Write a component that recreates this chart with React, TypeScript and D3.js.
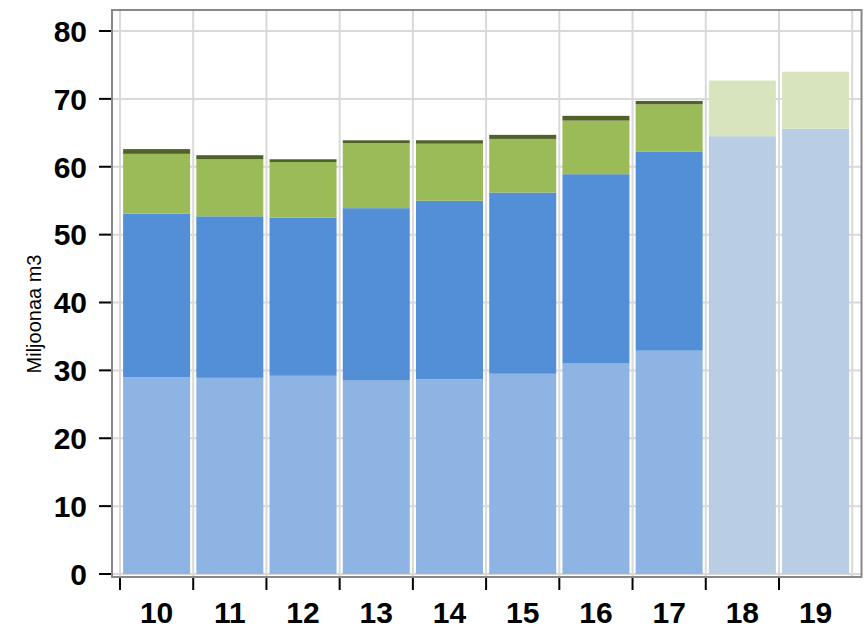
import React from "react";
import * as d3 from "d3";

const years = ["10", "11", "12", "13", "14", "15", "16", "17", "18", "19"];
const baseLight = [29.0, 28.9, 29.2, 28.5, 28.7, 29.5, 31.0, 32.9, 0, 0];
const midBlue = [24.1, 23.8, 23.3, 25.4, 26.3, 26.7, 27.9, 29.3, 0, 0];
const green = [8.8, 8.4, 8.2, 9.6, 8.4, 7.9, 7.9, 7.0, 0, 0];
const darkGreen = [0.7, 0.6, 0.4, 0.4, 0.5, 0.6, 0.7, 0.5, 0, 0];
const forecastBase = [0, 0, 0, 0, 0, 0, 0, 0, 64.5, 65.6];
const forecastTop = [0, 0, 0, 0, 0, 0, 0, 0, 8.2, 8.4];
const yTicks = [0, 10, 20, 30, 40, 50, 60, 70, 80];

const keys = ["baseLight", "midBlue", "green", "darkGreen", "forecastBase", "forecastTop"];
const colors: Record<string, string> = {
  baseLight: "#8eb4e3",
  midBlue: "#538fd6",
  green: "#9bbb59",
  darkGreen: "#4f6228",
  forecastBase: "#b9cde5",
  forecastTop: "#d7e4bd",
};

export default function App() {
  const W = 865, H = 630;
  const frame = { left: 112, right: 861.5, top: 10, bottom: 577 };
  const x = d3.scaleBand<string>().domain(years).range([120, 852.2]).paddingInner(0.085).paddingOuter(0.0425);
  const y = d3.scaleLinear().domain([0, 80]).range([574, 31]);
  const rows = years.map((yr, i) => ({
    year: yr,
    baseLight: baseLight[i],
    midBlue: midBlue[i],
    green: green[i],
    darkGreen: darkGreen[i],
    forecastBase: forecastBase[i],
    forecastTop: forecastTop[i],
  }));
  const stacked = d3.stack<any>().keys(keys)(rows);
  const step = x.step();
  const boundaries = d3.range(years.length + 1).map((i) => 120 + i * step);
  const font = "'Liberation Sans', Arial, sans-serif";
  return (
    <svg width={W} height={H} style={{ position: "absolute", left: 0, top: 0 }}>
      <rect x={0} y={0} width={W} height={H} fill="#fff" />
      {yTicks.map((t) => (
        <line key={"gy" + t} x1={frame.left} x2={frame.right} y1={y(t)} y2={y(t)} stroke="#d9d9d9" strokeWidth={2} />
      ))}
      {boundaries.map((b, i) => (
        <line key={"gx" + i} x1={b} x2={b} y1={frame.top} y2={frame.bottom} stroke="#d9d9d9" strokeWidth={2} />
      ))}
      {stacked.map((s) =>
        s.map((d, i) => {
          const h = y(d[0]) - y(d[1]);
          if (h <= 0) return null;
          return (
            <rect
              key={s.key + i}
              x={x(years[i])}
              y={y(d[1])}
              width={x.bandwidth()}
              height={h}
              fill={colors[s.key]}
            />
          );
        })
      )}
      <rect
        x={frame.left}
        y={frame.top}
        width={frame.right - frame.left}
        height={frame.bottom - frame.top}
        fill="none"
        stroke="#888"
        strokeWidth={2}
      />
      {yTicks.map((t) => (
        <g key={"yt" + t}>
          <line x1={99} x2={111} y1={y(t)} y2={y(t)} stroke="#000" strokeWidth={2} />
          <text
            x={87}
            y={y(t)}
            dy="0.36em"
            textAnchor="end"
            fontFamily={font}
            fontWeight="bold"
            fontSize={30}
            fill="#000"
          >
            {t}
          </text>
        </g>
      ))}
      {boundaries.slice(0, years.length).map((b, i) => (
        <line key={"xt" + i} x1={b} x2={b} y1={578} y2={590} stroke="#000" strokeWidth={2} />
      ))}
      {years.map((yr) => (
        <text
          key={"xl" + yr}
          x={(x(yr) as number) + x.bandwidth() / 2}
          y={623}
          textAnchor="middle"
          fontFamily={font}
          fontWeight="bold"
          fontSize={30}
          fill="#000"
        >
          {yr}
        </text>
      ))}
      <text
        transform="translate(41,314) rotate(-90)"
        textAnchor="middle"
        fontFamily={font}
        fontSize={20}
        fill="#000"
      >
        Miljoonaa m3
      </text>
    </svg>
  );
}
